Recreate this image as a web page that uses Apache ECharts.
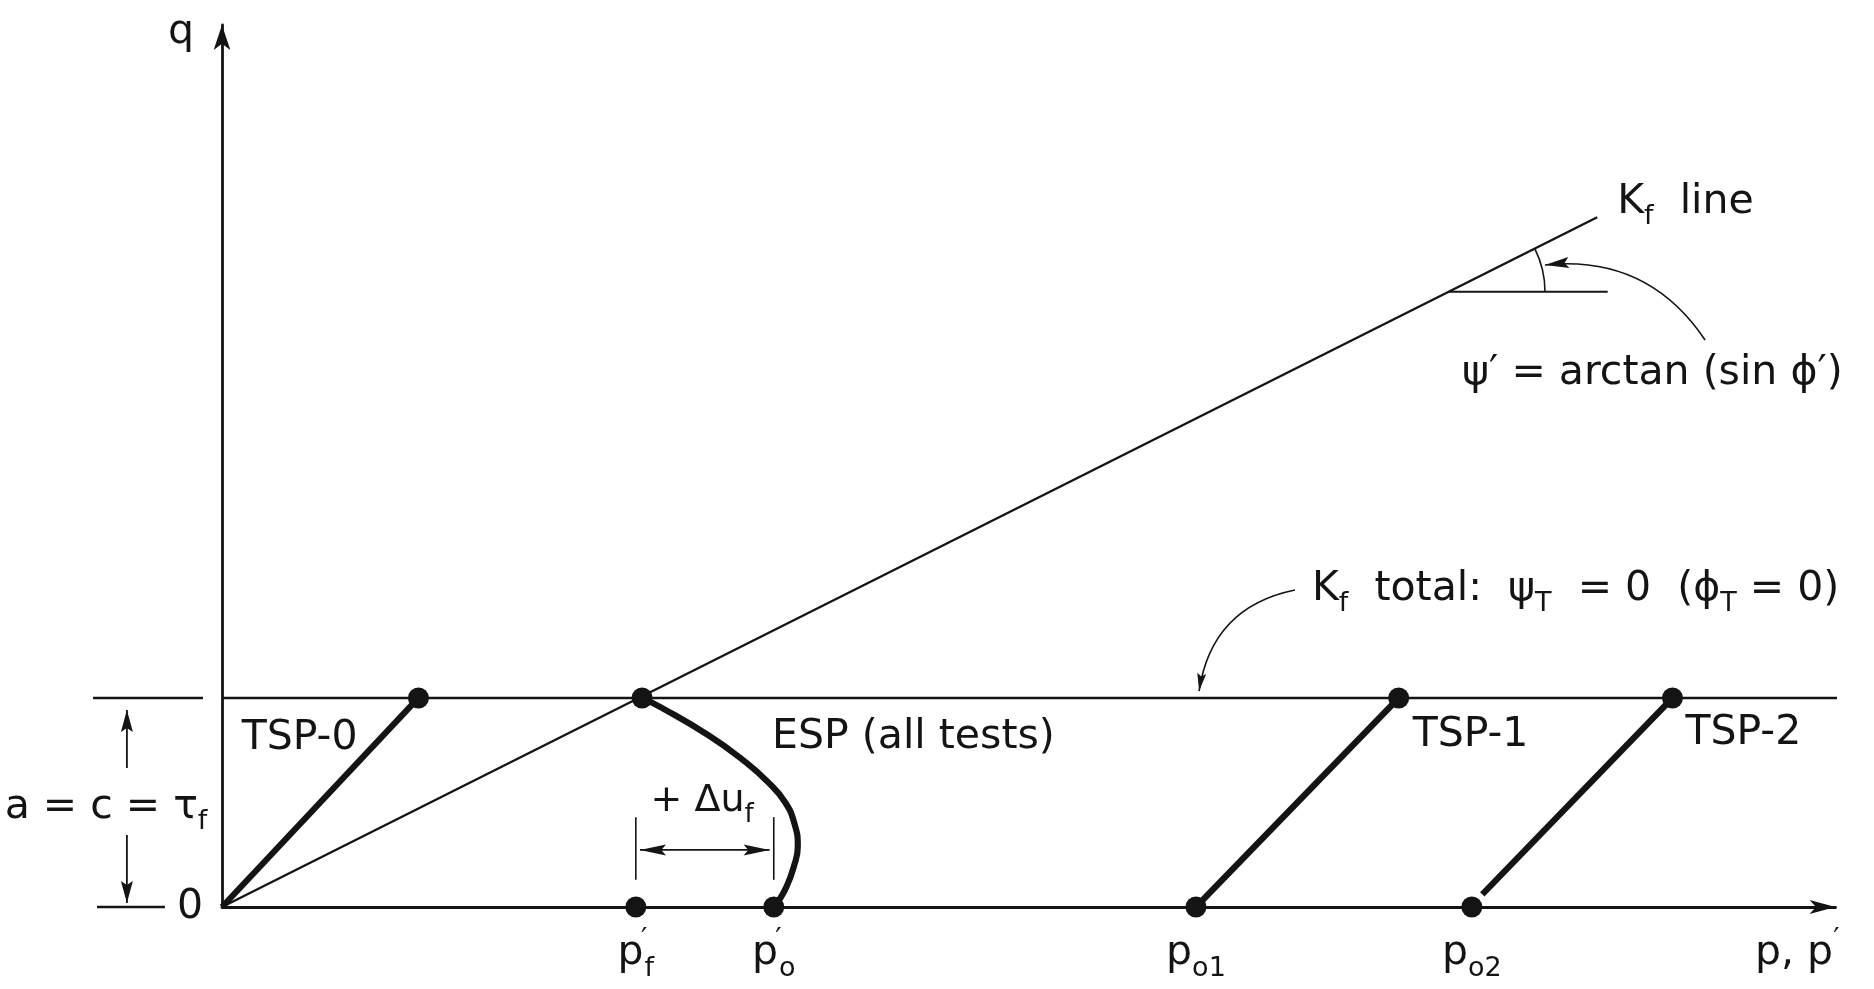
<!DOCTYPE html>
<html>
<head>
<meta charset="utf-8">
<script src="https://cdn.jsdelivr.net/npm/echarts@6/dist/echarts.min.js"></script>
<style>
  html, body { margin: 0; padding: 0; background: #fff; }
  #chart { width: 1874px; height: 989px; }
</style>
</head>
<body>
<div id="chart"></div>
<script>
// Stress paths in q–p space for undrained tests on a saturated clay:
// one effective stress path (ESP) shared by all tests, and total stress paths
// (TSP-0, TSP-1, TSP-2) that all reach the same deviator level q = τf.

// ---- values -------------------------------------------------------------
const qFailure = 10;                              // a = c = τf
const kfLine = [[0, 0], [65.8, 33.0]];            // effective-stress Kf line
const kfTotalEnd = 78.0;                          // Kf total (ψT = 0) reaches this p
const tsp0 = [[0, 0], [9.4, 10]];
const tsp1 = [[46.6, 0], [56.3, 10]];
const tsp2 = [[60.3, 0.6], [69.4, 10]];
const esp = [
  [20.1, 10], [21.0, 9.55], [23.3, 8.2], [24.9, 7.05], [26.1, 6.0],
  [26.95, 5.0], [27.4, 3.95], [27.55, 2.9], [27.35, 1.9], [27.0, 0.95],
  [26.6, 0.25], [26.4, 0]
];
const pfPrime = 19.8;   // p'f
const poPrime = 26.4;   // p'o
const po1 = 46.6;
const po2 = 59.8;
const pTickValues = [pfPrime, poPrime, po1, po2];
const pTickLabels = ['{p|p}{pr|′}{s|f}', '{p|p}{pr|′}{s|o}', '{p|p}{s|o1}', '{p|p}{s|o2}'];
const qTickValues = [0];
const qTickLabels = ['0'];

// ---- styling ------------------------------------------------------------
const FONT = "'DejaVu Sans', sans-serif";
const INK = '#141414';
const THIN = 2.4;
const THICK = 6.2;

const textRich = {
  t: { fontFamily: FONT, color: INK, fontSize: 41, lineHeight: 41, verticalAlign: 'top' },
  s: { fontFamily: FONT, color: INK, fontSize: 27, lineHeight: 27, padding: [22, 0, 0, 0], verticalAlign: 'top' },
  m: { fontFamily: FONT, color: INK, fontSize: 38, lineHeight: 38, verticalAlign: 'top' },
  ms: { fontFamily: FONT, color: INK, fontSize: 26, lineHeight: 26, padding: [20, 0, 0, 0], verticalAlign: 'top' }
};
const tickRich = {
  p: { fontFamily: FONT, color: INK, fontSize: 41, lineHeight: 41, padding: [6, 0, 0, 0], verticalAlign: 'top' },
  pr: { fontFamily: FONT, color: INK, fontSize: 28, lineHeight: 28, width: 1, verticalAlign: 'top' },
  pq: { fontFamily: FONT, color: INK, fontSize: 28, lineHeight: 28, verticalAlign: 'top' },
  s: { fontFamily: FONT, color: INK, fontSize: 27, lineHeight: 27, padding: [28, 0, 0, 0], verticalAlign: 'top' }
};

function note(coord, text, align, offset) {
  return {
    coord: coord,
    symbol: 'circle',
    symbolSize: 1,
    itemStyle: { color: 'rgba(0,0,0,0)' },
    label: {
      show: true, position: 'inside', formatter: text, align: align,
      verticalAlign: 'middle', offset: offset || [0, 0],
      fontFamily: FONT, fontSize: 41, color: INK, rich: textRich
    }
  };
}
function notes(list) {
  return { silent: true, animation: false, data: list };
}

// geometry of the ψ′ angle marker on the Kf line
const kfSlope = kfLine[1][1] / kfLine[1][0];
const angleP = 58.7;
const angleQ = angleP * kfSlope;
const angleRadius = 4.6;

// construction strokes: [p1, q1, p2, q2, curveness, heads (0 none, 1 end, 2 both), lineWidth, headLength, headWidth]
const guides = [
  [-6.17, qFailure, -0.91, qFailure, 0, 0, THIN, 0, 0],
  [-5.98, 0, -2.73, 0, 0, 0, THIN, 0, 0],
  [-4.55, 6.65, -4.55, 9.43, 0, 1, 1.8, 22, 12],
  [-4.55, 3.44, -4.55, 0.19, 0, 1, 1.8, 22, 12],
  [pfPrime, 1.3, pfPrime, 4.3, 0, 0, 1.6, 0, 0],
  [poPrime, 1.3, poPrime, 4.3, 0, 0, 1.6, 0, 0],
  [pfPrime + 0.2, 2.73, poPrime - 0.2, 2.73, 0, 2, 1.8, 26, 11],
  [angleP, angleQ, 66.3, angleQ, 0, 0, 1.9, 0, 0],
  [70.96, 27.13, 63.3, 30.72, -0.3, 1, 1.6, 24, 11],
  [51.34, 15.17, 46.75, 10.33, -0.35, 1, 1.6, 18, 9]
];

function arrowHead(tip, from, L, W) {
  const dx = tip[0] - from[0], dy = tip[1] - from[1];
  const len = Math.hypot(dx, dy) || 1;
  const ux = dx / len, uy = dy / len, nx = -uy, ny = ux;
  const bx = tip[0] - ux * L, by = tip[1] - uy * L;
  return {
    type: 'polygon',
    shape: { points: [
      tip,
      [bx + nx * W / 2, by + ny * W / 2],
      [tip[0] - ux * L * 0.82, tip[1] - uy * L * 0.82],
      [bx - nx * W / 2, by - ny * W / 2]
    ] },
    style: { fill: INK, stroke: null }
  };
}

function renderGuide(params, api) {
  const a = api.coord([api.value(0), api.value(1)]);
  const b = api.coord([api.value(2), api.value(3)]);
  const c = api.value(4), heads = api.value(5), lw = api.value(6);
  const L = api.value(7), W = api.value(8);
  const children = [];
  let cp = null;
  if (c) {
    cp = [(a[0] + b[0]) / 2 - (a[1] - b[1]) * c, (a[1] + b[1]) / 2 - (b[0] - a[0]) * c];
    children.push({ type: 'bezierCurve',
      shape: { x1: a[0], y1: a[1], x2: b[0], y2: b[1], cpx1: cp[0], cpy1: cp[1] },
      style: { stroke: INK, lineWidth: lw, fill: 'none' } });
  } else {
    children.push({ type: 'line',
      shape: { x1: a[0], y1: a[1], x2: b[0], y2: b[1] },
      style: { stroke: INK, lineWidth: lw } });
  }
  if (heads >= 1) children.push(arrowHead(b, cp || a, L, W));
  if (heads >= 2) children.push(arrowHead(a, cp || b, L, W));
  return { type: 'group', children: children };
}

function renderAngle(params, api) {
  const c = api.coord([api.value(0), api.value(1)]);
  const r = api.size([angleRadius, 0])[0];
  const o = api.coord(kfLine[0]);
  const e = api.coord(kfLine[1]);
  const ang = Math.atan2(e[1] - o[1], e[0] - o[0]);
  return {
    type: 'arc',
    shape: { cx: c[0], cy: c[1], r: r, startAngle: ang, endAngle: 0, clockwise: true },
    style: { stroke: INK, lineWidth: 1.6, fill: 'none' }
  };
}

const lineBase = { type: 'line', symbol: 'none', clip: false, silent: true, z: 3 };

const option = {
  animation: false,
  backgroundColor: '#ffffff',
  grid: { left: 222, right: 38.5, top: 25, bottom: 82, containLabel: false, outerBoundsMode: 'none' },
  xAxis: {
    type: 'value', min: 0, max: 77.2,
    name: '{p|p, p}{pq|′}',
    nameLocation: 'end', nameGap: 4,
    nameTextStyle: { align: 'right', verticalAlign: 'top', padding: [20, 0, 0, 0], rich: tickRich, fontFamily: FONT, color: INK },
    axisLine: { show: true, onZero: false, symbol: ['none', 'arrow'], symbolSize: [10.5, 26],
      lineStyle: { color: INK, width: 2.8 } },
    axisTick: { show: false },
    splitLine: { show: false },
    axisLabel: {
      show: true, customValues: pTickValues, margin: 20,
      formatter: (v) => pTickLabels[pTickValues.indexOf(v)] || '',
      rich: tickRich, fontFamily: FONT, color: INK
    }
  },
  yAxis: {
    type: 'value', min: 0, max: 42.2,
    name: 'q', nameLocation: 'end', nameGap: -7,
    nameTextStyle: { align: 'right', verticalAlign: 'middle', padding: [0, 28, 0, 0], fontFamily: FONT, fontSize: 41, color: INK },
    axisLine: { show: true, onZero: false, symbol: ['none', 'arrow'], symbolSize: [12.5, 25],
      lineStyle: { color: INK, width: 2.8 } },
    axisTick: { show: false },
    splitLine: { show: false },
    axisLabel: {
      show: true, customValues: qTickValues, margin: 19,
      formatter: (v) => qTickLabels[qTickValues.indexOf(v)] || '',
      fontFamily: FONT, fontSize: 41, color: INK, padding: [10, 0, 0, 0]
    }
  },
  series: [
    Object.assign({}, lineBase, {
      name: 'Kf total',
      data: [[0, qFailure], [kfTotalEnd, qFailure]],
      lineStyle: { color: INK, width: THIN },
      markPoint: notes([
        note([52.15, 15.21], '{t|K}{s|f}{t|  total:  ψ}{s|T}{t|  = 0  (ϕ}{s|T}{t| = 0)}', 'left'),
        note([0, 4.78], '{t|a = c = τ}{s|f}', 'center', [-116, 0])
      ])
    }),
    Object.assign({}, lineBase, {
      name: 'Kf line',
      data: kfLine,
      lineStyle: { color: INK, width: THIN },
      markPoint: notes([
        note(kfLine[1], '{t|K}{s|f}{t|  line}', 'left', [20, -15]),
        note([59.33, 25.55], 'ψ′ = arctan (sin ϕ′)', 'left')
      ])
    }),
    Object.assign({}, lineBase, {
      name: 'TSP-0', data: tsp0, lineStyle: { color: INK, width: THICK },
      markPoint: notes([note(tsp0[1], 'TSP-0', 'right', [-61, 40])])
    }),
    Object.assign({}, lineBase, {
      name: 'TSP-1', data: tsp1, lineStyle: { color: INK, width: THICK },
      markPoint: notes([note(tsp1[1], 'TSP-1', 'left', [14, 37])])
    }),
    Object.assign({}, lineBase, {
      name: 'TSP-2', data: tsp2, lineStyle: { color: INK, width: THICK },
      markPoint: notes([note(tsp2[1], 'TSP-2', 'left', [13, 35])])
    }),
    Object.assign({}, lineBase, {
      name: 'ESP', data: esp, smooth: 0.5, lineStyle: { color: INK, width: THICK },
      markPoint: notes([
        note(esp[0], 'ESP (all tests)', 'left', [130, 39]),
        note([22.97, 5.07], '{m|+ Δu}{ms|f}', 'center')
      ])
    }),
    {
      name: 'stress points', type: 'scatter', silent: true, z: 5,
      symbol: 'circle', symbolSize: 21,
      itemStyle: { color: INK, opacity: 1 },
      data: [tsp0[1], esp[0], tsp1[1], tsp2[1], [pfPrime, 0], [poPrime, 0], [po1, 0], [po2, 0]]
    },
    {
      name: 'construction', type: 'custom', silent: true, clip: false, z: 4,
      dimensions: ['p1', 'q1', 'p2', 'q2', 'curv', 'heads', 'lw', 'hl', 'hw'],
      encode: { x: ['p1', 'p2'], y: ['q1', 'q2'] },
      renderItem: renderGuide,
      data: guides
    },
    {
      name: 'angle', type: 'custom', silent: true, clip: false, z: 4,
      renderItem: renderAngle,
      data: [[angleP, angleQ]]
    }
  ]
};

const chart = echarts.init(document.getElementById('chart'));
chart.setOption(option);
</script>
</body>
</html>
